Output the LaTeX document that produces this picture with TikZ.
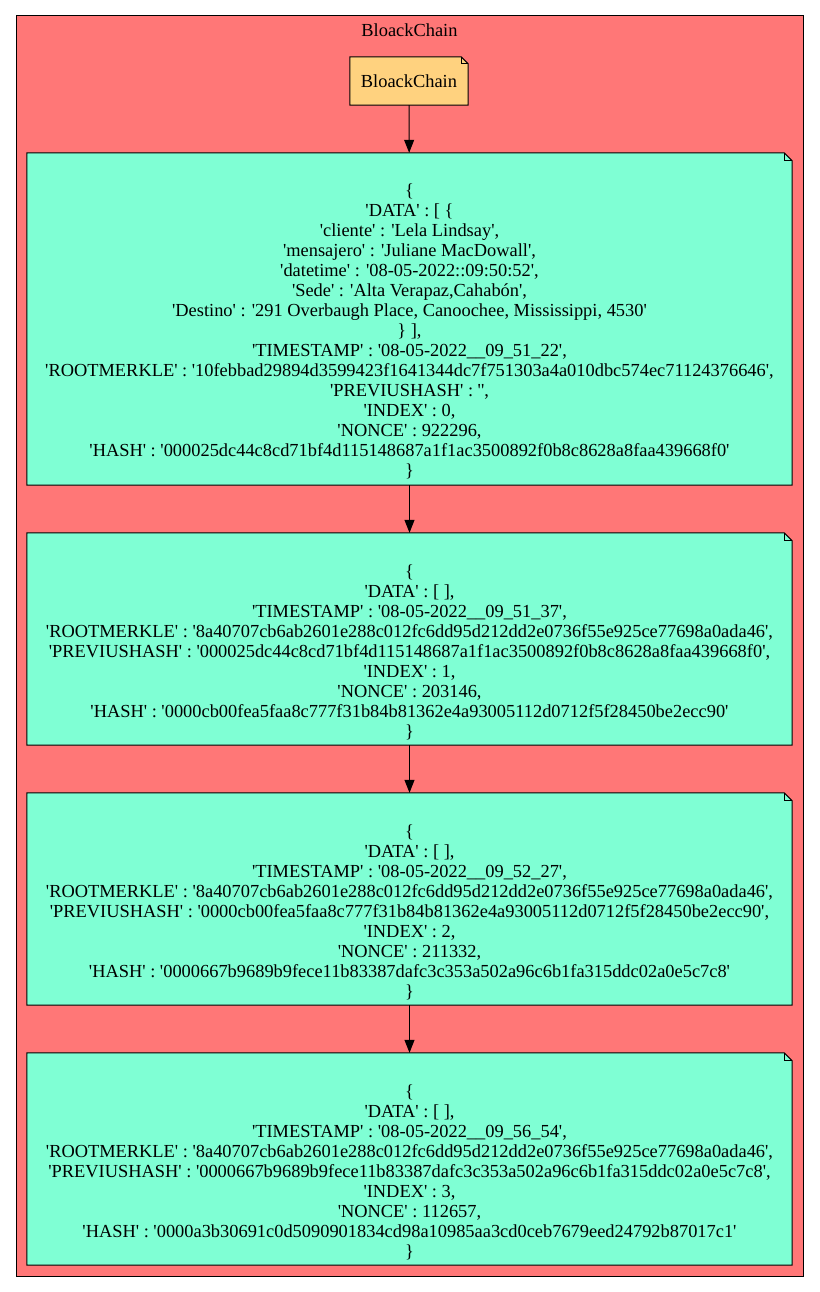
\documentclass[tikz,border=0pt]{standalone}
\usepackage{fontspec}
\newfontfamily\gvfont{Liberation Serif}
\usetikzlibrary{arrows.meta,backgrounds}

\definecolor{clusterfill}{HTML}{FF7777}
\definecolor{blockfill}{HTML}{7FFFD4}
\definecolor{headfill}{HTML}{FFD27F}

\begin{document}
\begin{tikzpicture}[x=1pt,y=-1pt,
  every node/.style={font=\gvfont\fontsize{18.4}{20}\selectfont},
  headbox/.style={rectangle, inner sep=0pt, minimum width=118pt, minimum height=48pt},
  blockbox/.style={rectangle, inner sep=0pt, align=center, minimum width=765pt, minimum height=212pt},
  link/.style={-{Triangle[length=13pt,width=10pt]}, line width=1pt},
  notefold/.style={line width=1pt, fill=#1}
]
\useasboundingbox (0,0) rectangle (819,1292);

% cluster title and nodes
\node (title) at (409.5,30) {BloackChain};
\node[headbox] (head) at (409,81) {BloackChain};

\node[blockbox, minimum height=332pt] (b0) at (409.5,319) {\mbox{}\\[18pt]
\{\\
'DATA' : [ \{\\
'cliente' : 'Lela Lindsay',\\
'mensajero' : 'Juliane MacDowall',\\
'datetime' : '08-05-2022::09:50:52',\\
'Sede' : 'Alta Verapaz,Cahabón',\\
'Destino' : '291 Overbaugh Place, Canoochee, Mississippi, 4530'\\
\} ],\\
'TIMESTAMP' : '08-05-2022\_\_09\_51\_22',\\
'ROOTMERKLE' : '10febbad29894d3599423f1641344dc7f751303a4a010dbc574ec71124376646',\\
'PREVIUSHASH' : '',\\
'INDEX' : 0,\\
'NONCE' : 922296,\\
'HASH' : '000025dc44c8cd71bf4d115148687a1f1ac3500892f0b8c8628a8faa439668f0'\\
\}};

\node[blockbox] (b1) at (409.5,639) {\mbox{}\\[20pt]
\{\\
'DATA' : [ ],\\
'TIMESTAMP' : '08-05-2022\_\_09\_51\_37',\\
'ROOTMERKLE' : '8a40707cb6ab2601e288c012fc6dd95d212dd2e0736f55e925ce77698a0ada46',\\
'PREVIUSHASH' : '000025dc44c8cd71bf4d115148687a1f1ac3500892f0b8c8628a8faa439668f0',\\
'INDEX' : 1,\\
'NONCE' : 203146,\\
'HASH' : '0000cb00fea5faa8c777f31b84b81362e4a93005112d0712f5f28450be2ecc90'\\
\}};

\node[blockbox] (b2) at (409.5,899) {\mbox{}\\[20pt]
\{\\
'DATA' : [ ],\\
'TIMESTAMP' : '08-05-2022\_\_09\_52\_27',\\
'ROOTMERKLE' : '8a40707cb6ab2601e288c012fc6dd95d212dd2e0736f55e925ce77698a0ada46',\\
'PREVIUSHASH' : '0000cb00fea5faa8c777f31b84b81362e4a93005112d0712f5f28450be2ecc90',\\
'INDEX' : 2,\\
'NONCE' : 211332,\\
'HASH' : '0000667b9689b9fece11b83387dafc3c353a502a96c6b1fa315ddc02a0e5c7c8'\\
\}};

\node[blockbox] (b3) at (409.5,1159) {\mbox{}\\[20pt]
\{\\
'DATA' : [ ],\\
'TIMESTAMP' : '08-05-2022\_\_09\_56\_54',\\
'ROOTMERKLE' : '8a40707cb6ab2601e288c012fc6dd95d212dd2e0736f55e925ce77698a0ada46',\\
'PREVIUSHASH' : '0000667b9689b9fece11b83387dafc3c353a502a96c6b1fa315ddc02a0e5c7c8',\\
'INDEX' : 3,\\
'NONCE' : 112657,\\
'HASH' : '0000a3b30691c0d5090901834cd98a10985aa3cd0ceb7679eed24792b87017c1'\\
\}};

% chain links
\draw[link] (head) -- (b0);
\draw[link] (b0) -- (b1);
\draw[link] (b1) -- (b2);
\draw[link] (b2) -- (b3);

% cluster frame and note outlines behind the text
\begin{scope}[on background layer]
  \fill[white] (0,0) rectangle (819,1292);
  \draw[line width=1pt, fill=clusterfill] (16,16) rectangle (803,1276);
  \foreach \n/\c/\f in {head/headfill/7, b0/blockfill/8, b1/blockfill/8, b2/blockfill/8, b3/blockfill/8} {
    \draw[notefold=\c] (\n.south west) -- (\n.north west) -- ([xshift=-\f pt]\n.north east)
      -- ([yshift=-\f pt]\n.north east) -- (\n.south east) -- cycle;
    \draw[line width=1pt] ([xshift=-\f pt]\n.north east) -- ([xshift=-\f pt,yshift=-\f pt]\n.north east)
      -- ([yshift=-\f pt]\n.north east);
  }
\end{scope}
\end{tikzpicture}
\end{document}
